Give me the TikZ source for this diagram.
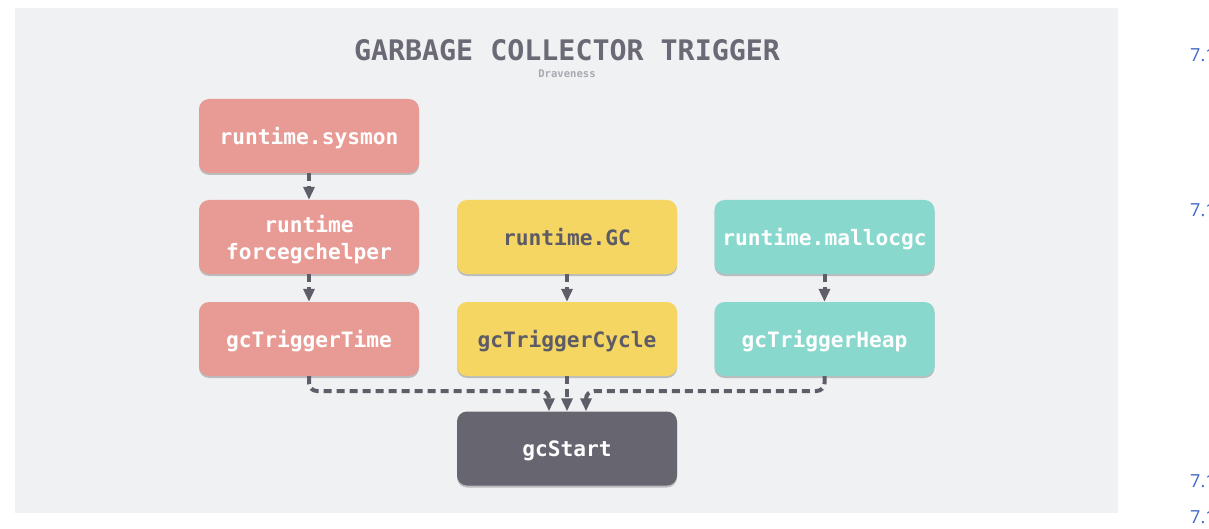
\documentclass[tikz,border=0pt]{standalone}
\usepackage{fontspec}
\setmainfont{Open Sans}
\newfontfamily\monofont{DejaVu Sans Mono}
\usetikzlibrary{arrows.meta,shadows}
\definecolor{panel}{HTML}{F0F1F3}
\definecolor{cred}{HTML}{E89B95}
\definecolor{cyel}{HTML}{F5D662}
\definecolor{cteal}{HTML}{89D8CD}
\definecolor{cdark}{HTML}{67656F}
\definecolor{cline}{HTML}{5F5E68}
\definecolor{ctitle}{HTML}{6A6975}
\definecolor{csub}{HTML}{A9A9B1}
\definecolor{cytext}{HTML}{5C5B66}
\definecolor{clink}{HTML}{3F67C9}
\tikzset{
  box/.style={rounded corners=10pt, minimum width=220pt, minimum height=74pt,
    inner sep=0pt, align=center, text depth=0pt,
    font=\monofont\bfseries\fontsize{21.2}{27}\selectfont,
    text=white,
    drop shadow={shadow xshift=0pt, shadow yshift=-2pt, opacity=0.22, fill=black}},
  redbox/.style={box, fill=cred},
  yelbox/.style={box, fill=cyel, text=cytext},
  tealbox/.style={box, fill=cteal},
  darkbox/.style={box, fill=cdark},
  conn/.style={draw=cline, line width=4pt, dash pattern=on 8pt off 5pt,
    -{Triangle[width=11pt,length=13pt]}},
  linktext/.style={text=clink, font=\fontsize{18}{20}\selectfont, anchor=west, inner sep=0pt}
}
\begin{document}
\begin{tikzpicture}[x=1pt,y=-1pt]
\useasboundingbox (0,0) rectangle (1209,529);
\fill[panel] (15,8) rectangle (1118,513);
\node[text=ctitle, font=\monofont\bfseries\fontsize{28.3}{30}\selectfont] (title) at (567,50) {GARBAGE COLLECTOR TRIGGER};
\node[text=csub, font=\monofont\bfseries\fontsize{10.6}{12}\selectfont] (sub) at (567,74) {Draveness};

\node[redbox] (sysmon) at (309,136) {runtime.sysmon};
\node[redbox] (forcegc) at (309,237) {runtime\\forcegchelper};
\node[redbox] (gctime) at (309,339) {gcTriggerTime};
\node[yelbox] (rgc) at (567,237) {runtime.GC};
\node[yelbox] (gccycle) at (567,339) {gcTriggerCycle};
\node[tealbox] (malloc) at (824.5,237) {runtime.mallocgc};
\node[tealbox] (gcheap) at (824.5,339) {gcTriggerHeap};
\node[darkbox] (gcstart) at (567,448.5) {gcStart};

\draw[conn] (sysmon.south) -- (forcegc.north);
\draw[conn] (forcegc.south) -- (gctime.north);
\draw[conn] (rgc.south) -- (gccycle.north);
\draw[conn] (malloc.south) -- (gcheap.north);

\coordinate (jl) at (549,391);
\coordinate (jr) at (586,391);
\draw[conn, rounded corners=8pt] (gctime.south) |- (jl) -- (jl |- gcstart.north);
\draw[conn] (gccycle.south) -- (gcstart.north);
\draw[conn, rounded corners=8pt] (gcheap.south) |- (jr) -- (jr |- gcstart.north);

\node[linktext] (l1) at (1190,55) {7.1};
\node[linktext] (l2) at (1190,210) {7.1};
\node[linktext] (l3) at (1190,481) {7.1};
\node[linktext] (l4) at (1190,517) {7.1};
\end{tikzpicture}
\end{document}
